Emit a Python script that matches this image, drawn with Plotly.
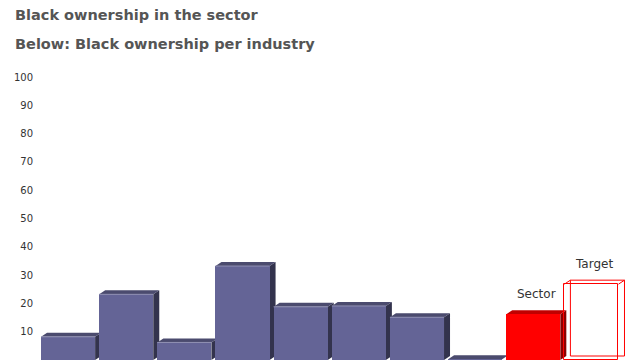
import plotly.graph_objects as go

# ---- data ----
categories = ["Industry 1", "Industry 2", "Industry 3", "Industry 4", "Industry 5",
              "Industry 6", "Industry 7", "Industry 8", "Sector", "Target"]
values = [8.2, 23.2, 6.2, 33.2, 18.8, 19.1, 15.1, 0.3, 16.2, 26.8]
y_ticks = [0, 10, 20, 30, 40, 50, 60, 70, 80, 90, 100]
title_1 = "Black ownership in the sector"
title_2 = "Below: Black ownership per industry"

# ---- style ----
W, H = 636, 360
ML, MR, MT, MB = 39, 6, 77, 0
X_RANGE = [-0.5, 9.663]
Y_RANGE = [0, 100]
plot_w = W - ML - MR
plot_h = H - MT - MB
px_per_x = plot_w / (X_RANGE[1] - X_RANGE[0])
px_per_y = plot_h / (Y_RANGE[1] - Y_RANGE[0])
DX = 6 / px_per_x      # depth offset in data units
DY = 4 / px_per_y
HW = 0.465             # half bar width

FRONT = "#646496"
TOP = "#4b4b6e"
SIDE = "#33334d"
EDGE = "#9191b3"
RED = "#ff0000"
RED_TOP = "#c00000"
RED_SIDE = "#8b0000"

idx = list(range(len(categories)))
kinds = ["ind"] * 8 + ["sector", "target"]


def top_poly(i, v):
    return ([i - HW, i - HW + DX, i + HW + DX, i + HW, i - HW, None],
            [v, v + DY, v + DY, v, v, None])


def side_poly(i, v):
    return ([i + HW, i + HW + DX, i + HW + DX, i + HW, i + HW, None],
            [0, DY, v + DY, v, 0, None])


def collect(fn, kind):
    xs, ys = [], []
    for i, v, k in zip(idx, values, kinds):
        if k == kind:
            a, b = fn(i, v)
            xs += a
            ys += b
    return xs, ys


fig = go.Figure()

# depth faces on the base axes (drawn underneath the fronts)
for kind, ctop, cside in [("ind", TOP, SIDE), ("sector", RED_TOP, RED_SIDE)]:
    sx, sy = collect(side_poly, kind)
    fig.add_trace(go.Scatter(x=sx, y=sy, fill="toself", fillcolor=cside, mode="lines",
                             line=dict(width=0, color=cside), hoverinfo="skip", showlegend=False))
    tx, ty = collect(top_poly, kind)
    fig.add_trace(go.Scatter(x=tx, y=ty, fill="toself", fillcolor=ctop, mode="lines",
                             line=dict(width=0, color=ctop), hoverinfo="skip", showlegend=False))

# front faces (bars) on the overlaying axes
front_colors = [FRONT if k == "ind" else (RED if k == "sector" else "rgba(0,0,0,0)") for k in kinds]
line_widths = [1 if k == "target" else 0 for k in kinds]
fig.add_trace(go.Bar(x=idx, y=values, width=2 * HW, marker=dict(color=front_colors,
                     line=dict(color=RED, width=line_widths)),
                     xaxis="x2", yaxis="y2", hovertext=categories, showlegend=False))

# light edge on the top of the purple fronts
ex, ey = [], []
for i, v, k in zip(idx, values, kinds):
    if k == "ind" and v > 1:
        ex += [i - HW, i + HW, None]
        ey += [v, v, None]
fig.add_trace(go.Scatter(x=ex, y=ey, mode="lines", line=dict(color=EDGE, width=1),
                         xaxis="x2", yaxis="y2", hoverinfo="skip", showlegend=False))

# wireframe of the target box
ti = idx[-1]
tv = values[-1]
wx = [ti - HW + DX, ti + HW + DX, ti + HW + DX, ti - HW + DX, ti - HW + DX, None,
      ti - HW, ti - HW + DX, None, ti + HW, ti + HW + DX, None]
wy = [DY, DY, tv + DY, tv + DY, DY, None,
      tv, tv + DY, None, tv, tv + DY, None]
fig.add_trace(go.Scatter(x=wx, y=wy, mode="lines", line=dict(color=RED, width=1),
                         xaxis="x2", yaxis="y2", hoverinfo="skip", showlegend=False))

# labels for sector and target
for i, v, k, name in zip(idx, values, kinds, categories):
    if k in ("sector", "target"):
        fig.add_annotation(x=i + DX / 2, y=v + DY, xref="x2", yref="y2", text=name,
                           showarrow=False, yanchor="bottom", yshift=7,
                           font=dict(family="DejaVu Sans", size=12, color="#333333"))

# titles
for text, ypx in [(title_1, 15), (title_2, 44)]:
    fig.add_annotation(x=(13 - ML) / plot_w, y=(H - ypx) / plot_h, xref="paper", yref="paper",
                       text="<b>" + text + "</b>", showarrow=False, xanchor="left", yanchor="middle",
                       font=dict(family="DejaVu Sans", size=14.5, color="#555555"))

axis_common = dict(showgrid=False, zeroline=False, showline=False)
fig.update_layout(
    width=W, height=H,
    margin=dict(l=ML, r=MR, t=MT, b=MB),
    paper_bgcolor="white", plot_bgcolor="white",
    bargap=0,
    xaxis=dict(range=X_RANGE, showticklabels=False, ticks="", **axis_common),
    yaxis=dict(range=Y_RANGE, tickmode="array", tickvals=y_ticks,
               ticktext=[str(t) for t in y_ticks], ticks="", ticklabelstandoff=5,
               tickfont=dict(family="DejaVu Sans", size=10, color="#333333"), **axis_common),
    xaxis2=dict(range=X_RANGE, overlaying="x", visible=False, **axis_common),
    yaxis2=dict(range=Y_RANGE, overlaying="y", visible=False, **axis_common),
)

fig.write_html("out.html", config={"displayModeBar": False},
               post_script="document.body.style.margin='0';document.body.style.overflow='hidden';")
